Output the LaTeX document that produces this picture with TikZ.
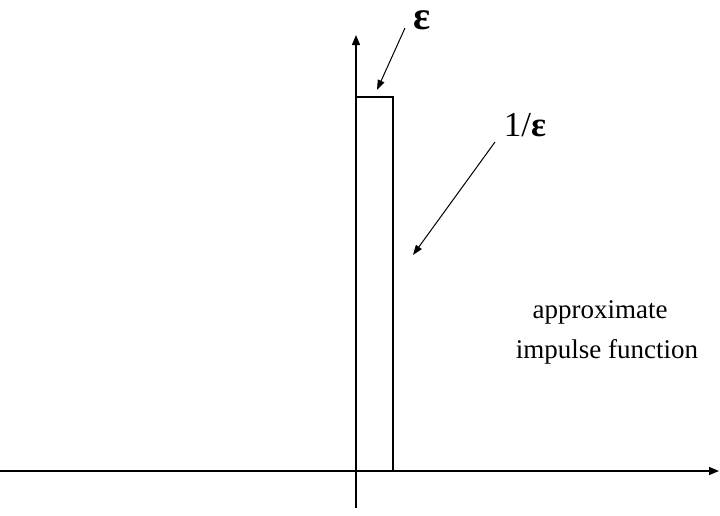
\documentclass[tikz,border=0pt]{standalone}
\usepackage{fontspec}
\setmainfont{Liberation Serif}
\usetikzlibrary{arrows.meta}
\begin{document}
\begin{tikzpicture}[x=1pt,y=-1pt,
  axis/.style={line width=1.4pt,-{Triangle[length=10pt,width=8pt]}},
  pointer/.style={line width=1pt,-{Triangle[length=10pt,width=7pt]}},
  lbl/.style={inner sep=0pt,font=\fontsize{27}{30}\selectfont}]
\useasboundingbox (0,0) rectangle (720,515);
% axes
\coordinate (xs) at (0,471);
\coordinate (xe) at (719,471);
\coordinate (ys) at (356,508);
\coordinate (ye) at (356,35);
\draw[axis] (xs) -- (xe);
\draw[axis] (ys) -- (ye);
% pulse
\coordinate (p1) at (356,97);
\coordinate (p2) at (393,97);
\coordinate (p3) at (393,471);
\draw[line width=1.4pt] (p1) -- (p2) -- (p3);
% labels
\node[lbl,anchor=base,text height=19pt,text depth=0pt] (eps) at (422,29) {\fontsize{40}{40}\selectfont\textbf{ε}};
\node[lbl,anchor=base] (inv) at (525,136) {\fontsize{35}{36}\selectfont 1/\textbf{ε}};
\node[lbl] (t1) at (600,312) {approximate};
\node[lbl] (t2) at (607,352) {impulse function};
\coordinate (a1) at (405,28);
\coordinate (a1e) at (377,90);
\coordinate (a2) at (495,142);
\coordinate (a2e) at (413,255);
\draw[pointer] (a1) -- (a1e);
\draw[pointer] (a2) -- (a2e);
\end{tikzpicture}
\end{document}
